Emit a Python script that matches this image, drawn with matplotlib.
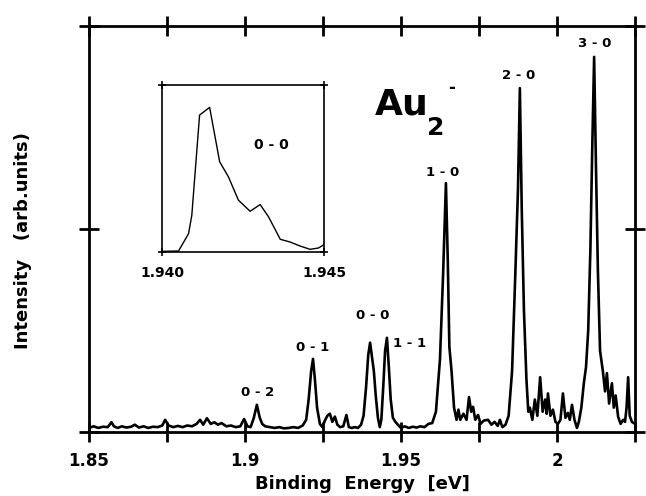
import numpy as np
import matplotlib
matplotlib.use("Agg")
import matplotlib.pyplot as plt

plt.rcParams['font.family'] = ['DejaVu Sans']
plt.rcParams['font.weight'] = 'bold'

# spectrum, (binding energy [eV], intensity) by region
low_region = [
    (1.8500, 0.010), (1.8515, 0.014), (1.8530, 0.010), (1.8545, 0.013),
    (1.8560, 0.012), (1.8572, 0.024), (1.8580, 0.014), (1.8592, 0.010),
    (1.8605, 0.014), (1.8620, 0.011), (1.8635, 0.013), (1.8647, 0.018),
    (1.8660, 0.011), (1.8675, 0.014), (1.8690, 0.010), (1.8705, 0.013),
    (1.8720, 0.012), (1.8735, 0.016), (1.8744, 0.030), (1.8755, 0.016),
    (1.8770, 0.012), (1.8785, 0.015), (1.8800, 0.012), (1.8815, 0.016),
    (1.8830, 0.014), (1.8845, 0.020), (1.8856, 0.030), (1.8866, 0.018),
    (1.8878, 0.034), (1.8890, 0.020), (1.8902, 0.024), (1.8913, 0.018),
    (1.8925, 0.022), (1.8940, 0.014), (1.8955, 0.016), (1.8970, 0.012),
    (1.8985, 0.014), (1.8997, 0.032), (1.9008, 0.014), (1.9018, 0.012),
    (1.9028, 0.034), (1.9038, 0.067), (1.9047, 0.036), (1.9055, 0.020),
    (1.9065, 0.014), (1.9080, 0.012), (1.9095, 0.010), (1.9110, 0.012),
    (1.9125, 0.009), (1.9140, 0.010), (1.9155, 0.012), (1.9170, 0.010),
    (1.9185, 0.016), (1.9196, 0.030), (1.9204, 0.080), (1.9212, 0.150),
    (1.9218, 0.180), (1.9224, 0.130), (1.9231, 0.060), (1.9240, 0.020),
    (1.9248, 0.012), (1.9256, 0.028), (1.9264, 0.040), (1.9272, 0.045),
    (1.9280, 0.025), (1.9288, 0.038), (1.9296, 0.018), (1.9305, 0.012),
    (1.9315, 0.014), (1.9325, 0.042), (1.9333, 0.012), (1.9342, 0.010),
    (1.9352, 0.012), (1.9362, 0.010),
]

band_00 = [
    (1.9372, 0.018), (1.9380, 0.040), (1.9388, 0.110), (1.9395, 0.190),
    (1.9401, 0.220), (1.9407, 0.185), (1.9413, 0.150), (1.9419, 0.090),
    (1.9426, 0.035), (1.9432, 0.012), (1.9437, 0.030), (1.9443, 0.110),
    (1.9449, 0.200), (1.9455, 0.232), (1.9461, 0.160), (1.9467, 0.080),
    (1.9474, 0.035), (1.9482, 0.025), (1.9490, 0.018), (1.9500, 0.010),
    (1.9512, 0.014), (1.9525, 0.010), (1.9538, 0.013), (1.9550, 0.011),
    (1.9562, 0.014), (1.9575, 0.012), (1.9588, 0.020), (1.9600, 0.022),
]

band_10 = [
    (1.9612, 0.050), (1.9625, 0.180), (1.9635, 0.390), (1.9644, 0.613),
    (1.9650, 0.420), (1.9655, 0.210), (1.9662, 0.150), (1.9670, 0.060),
    (1.9678, 0.030), (1.9684, 0.055), (1.9690, 0.030), (1.9700, 0.045),
    (1.9710, 0.030), (1.9718, 0.086), (1.9725, 0.050), (1.9731, 0.062),
    (1.9738, 0.030), (1.9747, 0.042), (1.9755, 0.020), (1.9765, 0.028),
    (1.9779, 0.030), (1.9790, 0.018), (1.9800, 0.025), (1.9810, 0.015),
    (1.9817, 0.030), (1.9825, 0.012), (1.9835, 0.018),
]

band_20 = [
    (1.9845, 0.040), (1.9856, 0.150), (1.9866, 0.380), (1.9875, 0.600),
    (1.9881, 0.847), (1.9887, 0.550), (1.9894, 0.300), (1.9902, 0.130),
    (1.9908, 0.050), (1.9913, 0.060), (1.9921, 0.030), (1.9929, 0.080),
    (1.9937, 0.040), (1.9946, 0.135), (1.9954, 0.050), (1.9962, 0.080),
    (1.9967, 0.045), (1.9971, 0.095), (1.9979, 0.040), (1.9987, 0.055),
    (1.9995, 0.025), (2.0003, 0.020), (2.0011, 0.030), (2.0019, 0.095),
    (2.0027, 0.035), (2.0035, 0.047), (2.0041, 0.030), (2.0048, 0.067),
    (2.0056, 0.030), (2.0064, 0.010),
]

band_30 = [
    (2.0070, 0.025), (2.0078, 0.060), (2.0086, 0.120), (2.0093, 0.160),
    (2.0100, 0.250), (2.0107, 0.450), (2.0113, 0.700), (2.0119, 0.924),
    (2.0125, 0.650), (2.0131, 0.400), (2.0138, 0.200), (2.0147, 0.150),
    (2.0154, 0.100), (2.0160, 0.145), (2.0167, 0.070), (2.0176, 0.120),
    (2.0182, 0.060), (2.0188, 0.090), (2.0196, 0.037), (2.0204, 0.020),
    (2.0212, 0.030), (2.0218, 0.025), (2.0223, 0.060), (2.0228, 0.135),
    (2.0233, 0.040), (2.0240, 0.025), (2.0250, 0.020),
]

# inset: 0-0 band at high resolution
inset_energy = [1.94000, 1.94051, 1.94082, 1.94092, 1.94116, 1.94147,
                1.94178, 1.94205, 1.94236, 1.94272, 1.94303, 1.94329,
                1.94365, 1.94395, 1.94426, 1.94457, 1.94483, 1.94500]
inset_intensity = [0.004, 0.006, 0.110, 0.220, 0.820, 0.866,
                   0.540, 0.450, 0.310, 0.244, 0.284, 0.210,
                   0.076, 0.060, 0.036, 0.016, 0.024, 0.044]

peak_labels = ["0 - 2", "0 - 1", "0 - 0", "1 - 1", "1 - 0", "2 - 0", "3 - 0"]
label_x = [1.9042, 1.9218, 1.9410, 1.9529, 1.9635, 1.9878, 2.0122]
label_y = [0.098, 0.209, 0.288, 0.219, 0.640, 0.877, 0.958]

x_ticks = [1.85, 1.875, 1.9, 1.925, 1.95, 1.975, 2.0, 2.025]
x_ticklabels = ["1.85", "", "1.9", "", "1.95", "", "2", ""]

spec = np.array(low_region + band_00 + band_10 + band_20 + band_30)

fig = plt.figure(figsize=(6.46, 4.96), dpi=100)
ax = fig.add_axes([89 / 646, 64 / 496, 546 / 646, 406 / 496])
ax.plot(spec[:, 0], spec[:, 1], color='k', lw=1.9, solid_joinstyle='round')
ax.set_xlim(1.85, 2.025)
ax.set_ylim(0, 1)
ax.set_xticks(x_ticks)
ax.set_xticklabels(x_ticklabels)
ax.set_yticks([0, 0.5, 1])
ax.set_yticklabels([])
ax.tick_params(direction='inout', length=15, width=2.0, top=True, right=True,
               labelsize=12, pad=7)
for s in ax.spines.values():
    s.set_linewidth(2.0)

for txt, x, y in zip(peak_labels, label_x, label_y):
    ax.text(x, y, txt, ha='center', va='center', fontsize=9.5,
            fontweight='bold')

# molecule label
ax.text(1.9417, 0.781, "Au", fontsize=26, fontweight='bold',
        ha='left', va='baseline')
ax.text(1.9583, 0.732, "2", fontsize=18, fontweight='bold',
        ha='left', va='baseline')
ax.text(1.9663, 0.847, "-", fontsize=12, fontweight='bold',
        ha='center', va='center')

fig.text(362 / 646, 1 - 484 / 496, "Binding  Energy  [eV]", fontsize=13,
         fontweight='bold', ha='center', va='center')
fig.text(23 / 646, 1 - 241 / 496, "Intensity   (arb.units)", fontsize=13,
         fontweight='bold', ha='center', va='center', rotation=90)

axin = fig.add_axes([162 / 646, 244 / 496, 162 / 646, 167 / 496])
axin.plot(inset_energy, inset_intensity, color='k', lw=1.0)
axin.set_xlim(1.940, 1.945)
axin.set_ylim(0, 1)
axin.set_xticks([1.940, 1.945])
axin.set_xticklabels(["1.940", "1.945"])
axin.set_yticks([0, 1])
axin.set_yticklabels([])
axin.tick_params(direction='inout', length=6, width=1.2, top=True, right=True,
                 labelsize=10, pad=7)
for s in axin.spines.values():
    s.set_linewidth(1.2)
axin.text(0.673, 0.641, "0 - 0", transform=axin.transAxes, fontsize=10,
          fontweight='bold', ha='center', va='center')

fig.savefig("out.png", dpi=100)
